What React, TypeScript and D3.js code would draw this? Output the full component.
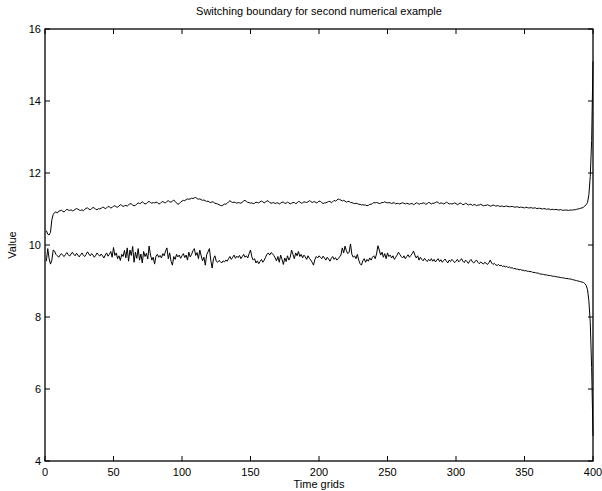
import React from "react";
import * as d3 from "d3";

const title = "Switching boundary for second numerical example";
const xLabel = "Time grids";
const yLabel = "Value";
const xTicks = [0, 50, 100, 150, 200, 250, 300, 350, 400];
const yTicks = [4, 6, 8, 10, 12, 14, 16];

const upper = [
  10.40, 10.30, 10.28, 10.35, 10.70, 10.85, 10.90, 10.92, 10.89, 10.94, 10.95, 10.97, 10.93, 10.92, 10.96, 10.99, 10.97, 10.96, 10.98, 10.95,
  10.96, 10.99, 11.01, 11.00, 10.97, 10.96, 10.98, 10.95, 10.99, 11.02, 11.03, 11.00, 10.98, 11.01, 11.04, 11.03, 10.99, 10.98, 11.01, 11.00,
  11.02, 11.05, 11.04, 11.01, 11.03, 11.07, 11.06, 11.03, 11.04, 11.08, 11.09, 11.06, 11.05, 11.08, 11.12, 11.10, 11.07, 11.09, 11.10, 11.08,
  11.11, 11.15, 11.14, 11.11, 11.09, 11.10, 11.14, 11.17, 11.15, 11.16, 11.20, 11.17, 11.14, 11.15, 11.19, 11.21, 11.18, 11.16, 11.18, 11.17,
  11.19, 11.18, 11.14, 11.15, 11.19, 11.21, 11.18, 11.17, 11.21, 11.23, 11.20, 11.19, 11.22, 11.25, 11.21, 11.17, 11.13, 11.15, 11.19, 11.22,
  11.24, 11.23, 11.26, 11.28, 11.27, 11.28, 11.30, 11.29, 11.31, 11.32, 11.29, 11.27, 11.28, 11.26, 11.24, 11.25, 11.23, 11.21, 11.22, 11.19,
  11.18, 11.20, 11.19, 11.16, 11.15, 11.14, 11.12, 11.10, 11.09, 11.11, 11.14, 11.13, 11.16, 11.20, 11.23, 11.20, 11.18, 11.19, 11.18, 11.16,
  11.18, 11.17, 11.16, 11.19, 11.22, 11.24, 11.21, 11.18, 11.18, 11.16, 11.17, 11.15, 11.16, 11.19, 11.18, 11.17, 11.20, 11.22, 11.20, 11.17,
  11.19, 11.23, 11.22, 11.18, 11.16, 11.17, 11.18, 11.15, 11.17, 11.17, 11.14, 11.16, 11.19, 11.19, 11.16, 11.16, 11.19, 11.17, 11.14, 11.16,
  11.18, 11.18, 11.15, 11.17, 11.21, 11.20, 11.16, 11.17, 11.20, 11.19, 11.18, 11.20, 11.23, 11.21, 11.18, 11.20, 11.20, 11.17, 11.18, 11.22,
  11.21, 11.18, 11.15, 11.17, 11.17, 11.19, 11.21, 11.21, 11.18, 11.20, 11.24, 11.22, 11.24, 11.28, 11.26, 11.25, 11.22, 11.24, 11.22, 11.19,
  11.21, 11.21, 11.18, 11.18, 11.16, 11.15, 11.16, 11.15, 11.13, 11.13, 11.11, 11.12, 11.11, 11.11, 11.09, 11.10, 11.13, 11.13, 11.15, 11.18,
  11.17, 11.18, 11.17, 11.15, 11.16, 11.18, 11.18, 11.20, 11.18, 11.17, 11.18, 11.17, 11.15, 11.17, 11.17, 11.14, 11.16, 11.15, 11.14, 11.16,
  11.17, 11.16, 11.14, 11.16, 11.15, 11.13, 11.15, 11.15, 11.12, 11.14, 11.17, 11.16, 11.13, 11.15, 11.15, 11.17, 11.16, 11.13, 11.15, 11.18,
  11.17, 11.14, 11.16, 11.16, 11.18, 11.20, 11.18, 11.15, 11.17, 11.16, 11.14, 11.16, 11.19, 11.17, 11.14, 11.15, 11.14, 11.15, 11.17, 11.15,
  11.12, 11.14, 11.17, 11.15, 11.12, 11.13, 11.16, 11.14, 11.11, 11.13, 11.13, 11.10, 11.12, 11.12, 11.09, 11.11, 11.11, 11.13, 11.11, 11.09,
  11.10, 11.10, 11.12, 11.10, 11.08, 11.09, 11.11, 11.10, 11.08, 11.09, 11.09, 11.07, 11.08, 11.08, 11.06, 11.08, 11.08, 11.07, 11.06, 11.07,
  11.07, 11.06, 11.05, 11.06, 11.06, 11.04, 11.05, 11.05, 11.04, 11.03, 11.05, 11.04, 11.03, 11.03, 11.04, 11.02, 11.03, 11.03, 11.01, 11.02,
  11.02, 11.01, 11.00, 11.01, 11.01, 10.99, 11.00, 11.00, 10.98, 10.99, 10.99, 10.98, 10.99, 10.98, 10.97, 10.98, 10.98, 10.96, 10.97, 10.97,
  10.97, 10.96, 10.97, 10.97, 10.97, 10.98, 10.98, 10.99, 11.00, 11.01, 11.02, 11.03, 11.05, 11.08, 11.12, 11.18, 11.40, 11.90, 12.90, 15.10,
];

const lower = [
  9.55, 9.90, 9.62, 9.47, 9.58, 9.86, 9.83, 9.74, 9.70, 9.66, 9.72, 9.76, 9.71, 9.68, 9.74, 9.79, 9.73, 9.69, 9.75, 9.80,
  9.74, 9.70, 9.77, 9.72, 9.67, 9.73, 9.78, 9.71, 9.68, 9.74, 9.81, 9.75, 9.70, 9.76, 9.72, 9.66, 9.71, 9.78, 9.73, 9.69,
  9.75, 9.70, 9.64, 9.72, 9.78, 9.69, 9.74, 9.82, 9.66, 9.93, 9.71, 9.78, 9.62, 9.70, 9.57, 9.74, 9.68, 9.85, 9.64, 9.92,
  9.55, 9.86, 9.71, 9.96, 9.52, 9.80, 9.63, 9.90, 9.58, 9.75, 9.50, 9.82, 9.68, 9.77, 9.61, 9.97, 9.72, 9.58, 9.66, 9.47,
  9.69, 9.74, 9.66, 9.71, 9.64, 9.76, 9.70, 9.83, 9.92, 9.62, 9.78, 9.55, 9.44, 9.68, 9.60, 9.74, 9.67, 9.72, 9.63, 9.70,
  9.76, 9.65, 9.72, 9.58, 9.80, 9.67, 9.74, 9.84, 9.90, 9.71, 9.79, 9.62, 9.86, 9.70, 9.56, 9.66, 9.44, 9.73, 9.81, 9.90,
  9.58, 9.36, 9.62, 9.70, 9.55, 9.52, 9.57, 9.54, 9.50, 9.56, 9.53, 9.58, 9.55, 9.62, 9.68, 9.60, 9.66, 9.72, 9.63, 9.69,
  9.65, 9.71, 9.62, 9.68, 9.74, 9.66, 9.70, 9.64, 9.76, 9.86, 9.67, 9.58, 9.62, 9.50, 9.56, 9.48, 9.54, 9.60, 9.52, 9.58,
  9.66, 9.74, 9.78, 9.72, 9.79, 9.76, 9.71, 9.64, 9.56, 9.68, 9.52, 9.72, 9.60, 9.46, 9.64, 9.54, 9.70, 9.58, 9.66, 9.86,
  9.74, 9.62, 9.78, 9.70, 9.82, 9.68, 9.74, 9.64, 9.72, 9.67, 9.60, 9.70, 9.63, 9.58, 9.52, 9.44, 9.60, 9.68, 9.64, 9.70,
  9.66, 9.62, 9.69, 9.64, 9.58, 9.66, 9.61, 9.55, 9.63, 9.68, 9.60, 9.65, 9.58, 9.62, 9.67, 9.72, 9.92, 9.78, 9.97, 9.84,
  9.76, 9.80, 10.03, 9.74, 9.66, 9.70, 9.62, 9.74, 9.58, 9.48, 9.44, 9.56, 9.62, 9.52, 9.60, 9.55, 9.64, 9.58, 9.66, 9.70,
  9.62, 9.75, 9.98, 9.86, 9.72, 9.80, 9.66, 9.76, 9.62, 9.78, 9.68, 9.72, 9.64, 9.70, 9.60, 9.66, 9.72, 9.80, 9.74, 9.68,
  9.64, 9.70, 9.62, 9.68, 9.73, 9.66, 9.71, 9.76, 9.83, 9.72, 9.64, 9.70, 9.58, 9.66, 9.60, 9.56, 9.63, 9.58, 9.54, 9.60,
  9.56, 9.62, 9.55, 9.60, 9.53, 9.58, 9.62, 9.54, 9.59, 9.52, 9.57, 9.61, 9.55, 9.50, 9.58, 9.54, 9.60, 9.56, 9.51, 9.55,
  9.60, 9.53, 9.57, 9.62, 9.55, 9.51, 9.58, 9.54, 9.49, 9.56, 9.60, 9.53, 9.50, 9.55, 9.58, 9.52, 9.48, 9.53, 9.50, 9.47,
  9.52, 9.49, 9.46, 9.51, 9.58, 9.50, 9.46, 9.49, 9.45, 9.43, 9.46, 9.42, 9.44, 9.40, 9.42, 9.39, 9.41, 9.37, 9.39, 9.36,
  9.37, 9.34, 9.35, 9.33, 9.33, 9.31, 9.32, 9.30, 9.30, 9.28, 9.29, 9.27, 9.27, 9.26, 9.26, 9.24, 9.24, 9.23, 9.22, 9.22,
  9.20, 9.19, 9.19, 9.18, 9.17, 9.17, 9.16, 9.15, 9.15, 9.14, 9.13, 9.13, 9.12, 9.11, 9.11, 9.10, 9.09, 9.09, 9.08, 9.07,
  9.07, 9.06, 9.06, 9.05, 9.04, 9.03, 9.02, 9.01, 9.00, 8.99, 8.98, 8.97, 8.96, 8.93, 8.88, 8.76, 8.45, 7.85, 6.60, 4.70,
];

const W = 602;
const H = 491;
const m = { left: 45, right: 593, top: 29, bottom: 461 };
const font = "'Liberation Sans', Arial, Helvetica, sans-serif";

export default function App() {
  const x = d3.scaleLinear().domain([0, 400]).range([m.left, m.right]);
  const y = d3.scaleLinear().domain([4, 16]).range([m.bottom, m.top]);
  const line = d3
    .line<number>()
    .x((_, i) => x(i + 1))
    .y((d) => y(d));
  const tl = 5;
  return (
    <svg
      width={W}
      height={H}
      style={{ position: "absolute", left: 0, top: 0, background: "#fff" }}
      fontFamily={font}
    >
      <rect x={0} y={0} width={W} height={H} fill="#fff" />
      <path d={line(upper) || ""} fill="none" stroke="#000" strokeWidth={1} />
      <path d={line(lower) || ""} fill="none" stroke="#000" strokeWidth={1} />
      <rect
        x={m.left}
        y={m.top}
        width={m.right - m.left}
        height={m.bottom - m.top}
        fill="none"
        stroke="#000"
        strokeWidth={1.3}
      />
      {xTicks.map((t) => (
        <g key={"x" + t}>
          <line x1={x(t)} x2={x(t)} y1={m.bottom} y2={m.bottom - tl} stroke="#000" />
          <line x1={x(t)} x2={x(t)} y1={m.top} y2={m.top + tl} stroke="#000" />
          <text x={x(t)} y={m.bottom + 15} fontSize={11} textAnchor="middle" fill="#000">
            {t}
          </text>
        </g>
      ))}
      {yTicks.map((t) => (
        <g key={"y" + t}>
          <line x1={m.left} x2={m.left + tl} y1={y(t)} y2={y(t)} stroke="#000" />
          <line x1={m.right} x2={m.right - tl} y1={y(t)} y2={y(t)} stroke="#000" />
          <text x={m.left - 4} y={y(t) + 4} fontSize={11} textAnchor="end" fill="#000">
            {t}
          </text>
        </g>
      ))}
      <text x={(m.left + m.right) / 2} y={15} fontSize={11} textAnchor="middle" fill="#000">
        {title}
      </text>
      <text x={(m.left + m.right) / 2} y={488} fontSize={11} textAnchor="middle" fill="#000">
        {xLabel}
      </text>
      <text
        transform={`translate(16, ${(m.top + m.bottom) / 2}) rotate(-90)`}
        fontSize={11}
        textAnchor="middle"
        fill="#000"
      >
        {yLabel}
      </text>
    </svg>
  );
}
